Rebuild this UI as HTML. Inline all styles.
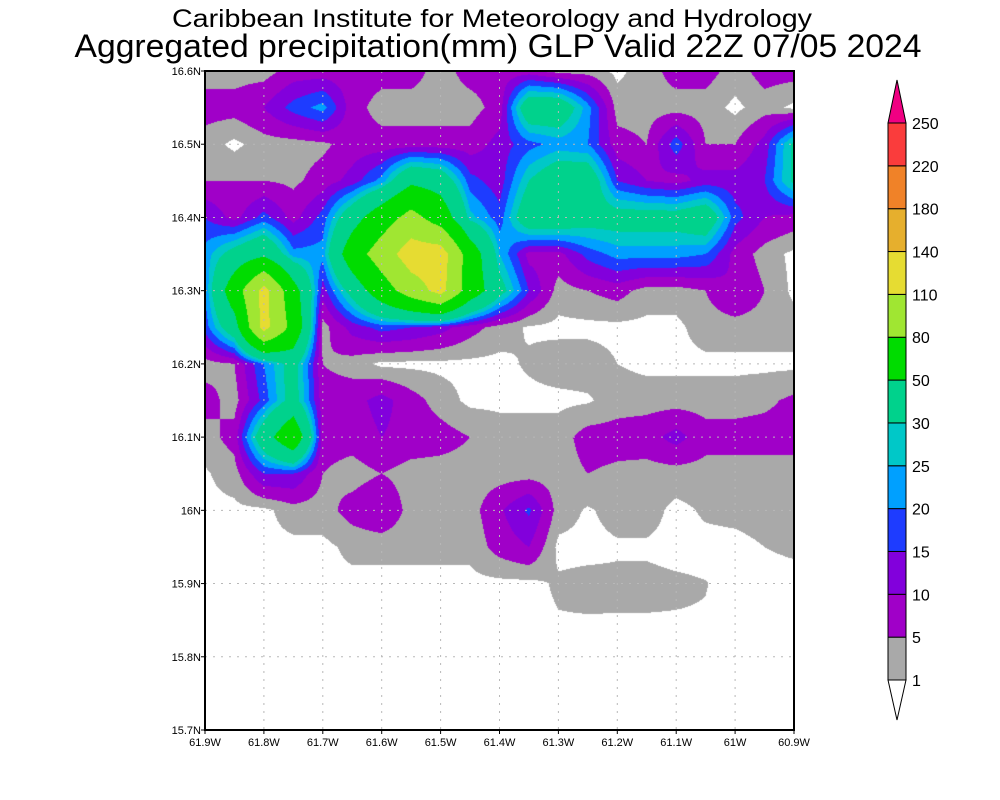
<!DOCTYPE html>
<html><head><meta charset="utf-8"><style>
html,body{margin:0;padding:0;background:#fff;}
#wrap{position:relative;width:1000px;height:800px;overflow:hidden;}
canvas{position:absolute;left:205px;top:71px;}
svg{position:absolute;left:0;top:0;}
text{font-family:"Liberation Sans",sans-serif;fill:#000;}
</style></head><body>
<div id="wrap">
<canvas id="map" width="589" height="659"></canvas>
<svg id="svg" width="1000" height="800"></svg>
</div>
<script>
// ---- data ----
const lonTicks = ["61.9W","61.8W","61.7W","61.6W","61.5W","61.4W","61.3W","61.2W","61.1W","61W","60.9W"];
const latTicks = ["16.6N","16.5N","16.4N","16.3N","16.2N","16.1N","16N","15.9N","15.8N","15.7N"];
const levels = [1,5,10,15,20,25,30,50,80,110,140,180,220,250];
const levelColors = ["#ffffff","#a9a9a9","#a000c8","#8200dc","#1e3cff","#00a0ff","#00c8c8","#00d28c","#00dc00","#a0e632","#e6dc32","#e6af2d","#f08228","#fa3c3c","#f00082"];
// precipitation grid (mm), rows 16.6N -> 15.7N step 0.05, cols 61.9W -> 60.9W step 0.05
const row00 = [3,3,3,7,7,7,7,7,3,7,7,7,3,3,0,3,7,7,3,7,7];
const row01 = [7,7,10,17,22,7,3,3,3,3,7,40,40,22,3,3,3,3,0,3,0];
const row02 = [3,0,3,3,4,7,7,7,7,7,12,18,22,20,7,5,18,5,5,12,32];
const row03 = [5,5,5,4,7,12,22,45,40,17,12,30,40,40,15,10,8,12,12,15,32];
const row04 = [15,8,17,8,17,40,65,90,65,27,17,40,40,35,35,35,35,40,17,10,8];
const row05 = [22,35,45,22,22,65,95,125,125,65,25,8,8,17,22,22,22,20,8,3,0];
const row06 = [20,65,120,60,12,35,65,95,120,65,35,15,3,5,7,3,3,5,10,5,0];
const row07 = [17,40,120,70,3,12,17,15,12,7,3,0.5,0,0,0,0,0,3,3,3,3];
const row08 = [3,5,20,35,5,3,0,0,0,0,0,1.5,3,3,1,0,0,0,0,0,0];
const row09 = [7,3,17,35,7,8,12,7,3,0,0,0,0,0.5,3,3,3,3,3,4,6];
const row10 = [3,7,40,70,7,7,10,8,7,5,3,3,3,7,7,8,12,7,7,7,7];
const row11 = [0.5,3,15,15,5,3,5,3,3,3,3,3,3,5,4,3,3,3,3,3,3];
const row12 = [0,0,0,3,3,7,10,3,3,3,9,16,3,0.5,2.5,2.5,0,1.5,2,2.5,3];
const row13 = [0,0,0,0,0,2,2,2,2,2,7,10,0,0,0.5,0.5,0,0,0,1,1.5];
const row14 = [0,0,0,0,0,0,0,0,0,0,0,0,1.5,2,1.8,1.8,1.5,1.1,0,0,0];
const row15 = [0,0,0,0,0,0,0,0,0,0,0,0,0.8,0.8,0.8,0.8,0.8,0.8,0,0,0];
const row16 = [0,0,0,0,0,0,0,0,0,0,0,0,0,0,0,0,0,0,0,0,0];
const row17 = [0,0,0,0,0,0,0,0,0,0,0,0,0,0,0,0,0,0,0,0,0];
const row18 = [0,0,0,0,0,0,0,0,0,0,0,0,0,0,0,0,0,0,0,0,0];
const grid = [row00,row01,row02,row03,row04,row05,row06,row07,row08,row09,row10,row11,row12,row13,row14,row15,row16,row17,row18];

// ---- axes ----
const X0=205, X1=794, Y0=71, Y1=730;
const lonMin=-61.9, lonMax=-60.9, latMin=15.7, latMax=16.6;
function xScale(lon){return X0+(lon-lonMin)/(lonMax-lonMin)*(X1-X0);}
function yScale(lat){return Y0+(latMax-lat)/(latMax-latMin)*(Y1-Y0);}
function hex(c){return [parseInt(c.substr(1,2),16),parseInt(c.substr(3,2),16),parseInt(c.substr(5,2),16)];}
function colorIndex(v){let k=0;while(k<levels.length&&v>=levels[k])k++;return k;}

// ---- draw map ----
const cv=document.getElementById('map'),ctx=cv.getContext('2d');
const W=cv.width,H=cv.height,img=ctx.createImageData(W,H);
const rgb=levelColors.map(hex);
const nr=grid.length,nc=grid[0].length;
for(let py=0;py<H;py++){
  const lat=latMax-(py+0.5)/H*(latMax-latMin);
  const fy=(latMax-lat)/0.05; let j=Math.min(Math.floor(fy),nr-2); const ty=fy-j;
  for(let px=0;px<W;px++){
    const lon=lonMin+(px+0.5)/W*(lonMax-lonMin);
    const fx=(lon-lonMin)/0.05; let i=Math.min(Math.floor(fx),nc-2); const tx=fx-i;
    const v=(grid[j][i]*(1-tx)+grid[j][i+1]*tx)*(1-ty)+(grid[j+1][i]*(1-tx)+grid[j+1][i+1]*tx)*ty;
    const c=rgb[colorIndex(v)],o=(py*W+px)*4;
    img.data[o]=c[0];img.data[o+1]=c[1];img.data[o+2]=c[2];img.data[o+3]=255;
  }
}
ctx.putImageData(img,0,0);

// ---- svg overlay ----
const svg=document.getElementById('svg'),NS='http://www.w3.org/2000/svg';
function mk(tag,attrs,parent){const e=document.createElementNS(NS,tag);for(const k in attrs)e.setAttribute(k,attrs[k]);(parent||svg).appendChild(e);return e;}

lonTicks.forEach((t,k)=>{
  const x=xScale(lonMin+k*0.1);
  if(k>0&&k<lonTicks.length-1){
    const l=mk('line',{x1:x,y1:Y0,x2:x,y2:Y1,stroke:'#b8b8b8','stroke-width':1,'stroke-dasharray':'2,6'});
    
    
  }
  const tk=mk('line',{x1:x,y1:Y1,x2:x,y2:Y1+4,stroke:'#000','stroke-width':1});
  
  
  const tx=mk('text',{x:x,y:Y1+16,'font-size':11,'text-anchor':'middle'});
  tx.textContent=t;
  
  
});
latTicks.forEach((t,k)=>{
  const y=yScale(latMax-k*0.1);
  if(k>0&&k<latTicks.length-1){
    const l=mk('line',{x1:X0,y1:y,x2:X1,y2:y,stroke:'#b8b8b8','stroke-width':1,'stroke-dasharray':'2,6'});
    
    
  }
  const tk=mk('line',{x1:X0-4,y1:y,x2:X0,y2:y,stroke:'#000','stroke-width':1});
  
  
  const tx=mk('text',{x:X0-4,y:y+4,'font-size':11,'text-anchor':'end'});
  tx.textContent=t;
  
  
});
const frame=mk('rect',{x:X0,y:Y0,width:X1-X0,height:Y1-Y0,fill:'none',stroke:'#000','stroke-width':2});



const t1=mk('text',{x:492,y:27,'font-size':25,'text-anchor':'middle',textLength:640,lengthAdjust:'spacingAndGlyphs'});
t1.textContent='Caribbean Institute for Meteorology and Hydrology';


const t2=mk('text',{x:498,y:57,'font-size':32,'text-anchor':'middle',textLength:847,lengthAdjust:'spacingAndGlyphs'});
t2.textContent='Aggregated precipitation(mm) GLP Valid 22Z 07/05 2024';



const CB0=888,CB1=906,CBbot=680,CBtop=123;
const step=(CBbot-CBtop)/(levels.length-1);
function cbY(k){return CBbot-k*step;}
const lowTri=mk('polygon',{points:`${CB0},${CBbot} ${CB1},${CBbot} ${(CB0+CB1)/2},${CBbot+40}`,fill:levelColors[0],stroke:'#000','stroke-width':1});


for(let k=0;k<levels.length-1;k++){
  const r=mk('rect',{x:CB0,y:cbY(k+1),width:CB1-CB0,height:step,fill:levelColors[k+1],stroke:'#000','stroke-width':1});
  
  
}
const hiTri=mk('polygon',{points:`${CB0},${CBtop} ${CB1},${CBtop} ${(CB0+CB1)/2},${CBtop-43}`,fill:levelColors[levels.length],stroke:'#000','stroke-width':1});


levels.forEach((v,k)=>{
  const tx=mk('text',{x:912,y:cbY(k)+6,'font-size':16});
  tx.textContent=v;
  
  
});
</script>
</body></html>
